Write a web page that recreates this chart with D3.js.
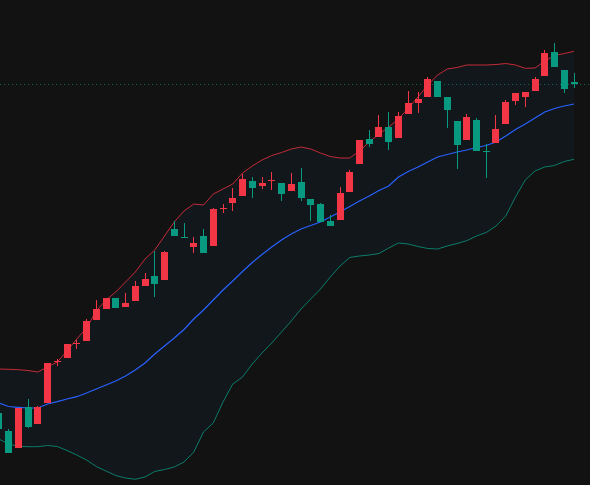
<!DOCTYPE html>
<html>
<head>
<meta charset="utf-8">
<script src="https://cdn.jsdelivr.net/npm/d3@7"></script>
<style>
  html, body { margin: 0; padding: 0; background: #121212; }
  svg { display: block; }
</style>
</head>
<body>
<div id="canvas"></div>
<script>
var width = 590,
    height = 485;

// candles, oldest first (index -1 is the one cut off at the left edge)
var open  = [587, 569, 552.3, 592.7, 576.3, 597.3, 638.5, 642.3, 656.3, 659.3, 680.3, 691.3, 702, 693.3, 699.3, 714.3, 724, 720.3, 771, 763,
             753.3, 764, 754.3, 791.5, 797.3, 804.3, 819, 814, 819.5, 817, 809, 818.3, 801, 796, 779, 780.3, 808.3, 836.3, 861, 863.3,
             873, 862.3, 886.3, 897.3, 903.3, 919, 903, 879, 860.3, 880, 849, 857.3, 876.3, 899.3, 903.3, 909.3, 924.3, 948, 930, 918];
var high  = [589, 570.7, 592, 601, 594, 637, 641.3, 656, 660.5, 681, 700, 702, 702, 707, 719, 727, 749, 749, 779, 777.3,
             763.3, 771, 792, 796, 812, 826, 823, 823, 828, 817, 827, 832, 801, 797, 785, 813, 830, 860, 870, 885,
             888, 888, 909, 908.3, 923, 919, 903, 879, 886, 882, 856, 885, 900, 907, 908, 923, 950, 957, 930, 927];
var low   = [569, 547, 552, 572.3, 576, 597, 634, 642, 651.5, 659, 680, 691, 692.3, 693, 699, 714, 703.3, 720, 764.3, 762.3,
             747.3, 747.3, 754, 787.3, 789.3, 804, 802.3, 811, 810, 799.3, 809, 799.3, 779, 778, 774, 780, 808, 836, 853.3, 863,
             850.3, 862, 886, 887.3, 903, 903.3, 872.3, 831.3, 860, 849.3, 822.3, 857, 876, 895.3, 893.3, 909, 924, 933.3, 907.3, 912.3];
var close = [571, 547.3, 592, 573.3, 593.3, 637, 639.2, 656, 657, 679, 691, 702, 692.3, 697, 714, 721, 716.3, 748, 764.3, 762.5,
             757.3, 747.3, 791, 792.5, 802, 821, 812.3, 817, 820.5, 806.3, 816, 802, 795, 778, 774, 807, 828, 860, 856.3, 873,
             858.3, 884, 897, 901, 921, 903.3, 890.3, 855.3, 883, 849.3, 848.5, 871, 898, 907, 908, 921, 947, 933.3, 911.3, 916];

// bollinger bands
var bbUpper = [631, 630.7, 630.3, 629.5, 628, 633, 638, 649, 661, 672, 689, 700, 708, 718, 728, 741, 750, 764, 778, 789,
               796, 795, 806, 811, 816, 827, 834, 840, 844.5, 847.5, 851, 853, 851, 847, 843.5, 842, 842, 849, 858, 866,
               873, 881, 892, 903, 915, 925, 931, 932.5, 935, 935, 935, 935.5, 936.5, 935, 931.7, 932, 939, 944.5, 946.5, 948.7];
var bbBasis = [597, 593.5, 592.7, 592, 592, 596, 598.3, 601, 603.3, 607, 611, 615, 619, 624, 630, 637, 646, 654, 662, 670.5,
               681, 690, 700, 710, 719, 728.5, 737.5, 745.5, 753, 760, 766, 771, 774.5, 778, 783, 788, 793.5, 799, 804, 809.5,
               814, 823, 828.5, 833, 838, 843, 845.5, 848, 850, 852.5, 854.5, 858, 864, 870.5, 876, 882, 888, 891.5, 894, 896];
var bbLower = [561, 556, 553.7, 553.3, 553.3, 554.5, 553.5, 549.5, 545, 540, 533.5, 529, 524.5, 522, 520.7, 523, 528.5, 530.5, 533, 538,
               548, 568, 577, 598, 616, 623, 636, 647, 657, 668, 679, 691, 701, 711, 723, 734, 742.5, 744, 745, 746.5,
               752, 757, 756, 753.5, 751.5, 751, 754, 756.5, 759.3, 764, 767.5, 774, 784, 803, 820, 829, 833, 834.5, 838.5, 840.7];

var upColor = "#f23645",
    downColor = "#089981";

var data = open.map(function(o, i) {
  return {i: i - 1, open: o, high: high[i], low: low[i], close: close[i],
          upper: bbUpper[i], basis: bbBasis[i], lower: bbLower[i]};
});

var x = d3.scaleLinear().domain([0, 58]).range([8.5, 574]);
var y = d3.scaleLinear().domain([515, 1000]).range([height, 0]);

var svg = d3.select("#canvas").append("svg")
    .attr("width", width)
    .attr("height", height);

svg.append("rect")
    .attr("width", width)
    .attr("height", height)
    .attr("fill", "#121212");

// band fill
var area = d3.area()
    .x(function(d){ return x(d.i); })
    .y0(function(d){ return y(d.lower); })
    .y1(function(d){ return y(d.upper); });

svg.append("path")
    .datum(data)
    .attr("d", area)
    .attr("fill", "rgba(33,150,243,0.045)");

function bandLine(key, color, w) {
  var line = d3.line()
      .x(function(d){ return x(d.i); })
      .y(function(d){ return y(d[key]); });
  svg.append("path")
      .datum(data)
      .attr("d", line)
      .attr("fill", "none")
      .attr("stroke", color)
      .attr("stroke-width", w);
}
bandLine("upper", "#c22b38", 1);
bandLine("basis", "#2962ff", 1.2);
bandLine("lower", "#0a7d6a", 1);

// last price line
var lastY = Math.round(y(close[close.length - 1])) + 0.5;
svg.append("line")
    .attr("x1", 0).attr("x2", width)
    .attr("y1", lastY).attr("y2", lastY)
    .attr("stroke", downColor)
    .attr("stroke-opacity", 0.6)
    .attr("stroke-width", 1)
    .attr("stroke-dasharray", "1,3");

// candles
var cx = function(d){ return Math.round(x(d.i) - 0.5) + 0.5; };
var candles = svg.append("g").attr("shape-rendering", "crispEdges");

candles.selectAll("line.wick")
  .data(data).enter()
  .append("line")
  .attr("class", "wick")
  .attr("x1", cx).attr("x2", cx)
  .attr("y1", function(d){ return Math.round(y(d.high)); })
  .attr("y2", function(d){ return Math.round(y(d.low)); })
  .attr("stroke", function(d){ return d.close >= d.open ? upColor : downColor; })
  .attr("stroke-width", 1);

candles.selectAll("rect.body")
  .data(data).enter()
  .append("rect")
  .attr("class", "body")
  .attr("x", function(d){ return cx(d) - 3.5; })
  .attr("width", 7)
  .attr("y", function(d){ return Math.round(y(Math.max(d.open, d.close))); })
  .attr("height", function(d){
    return Math.max(1, Math.round(y(Math.min(d.open, d.close))) - Math.round(y(Math.max(d.open, d.close))));
  })
  .attr("fill", function(d){ return d.close >= d.open ? upColor : downColor; });
</script>
</body>
</html>
